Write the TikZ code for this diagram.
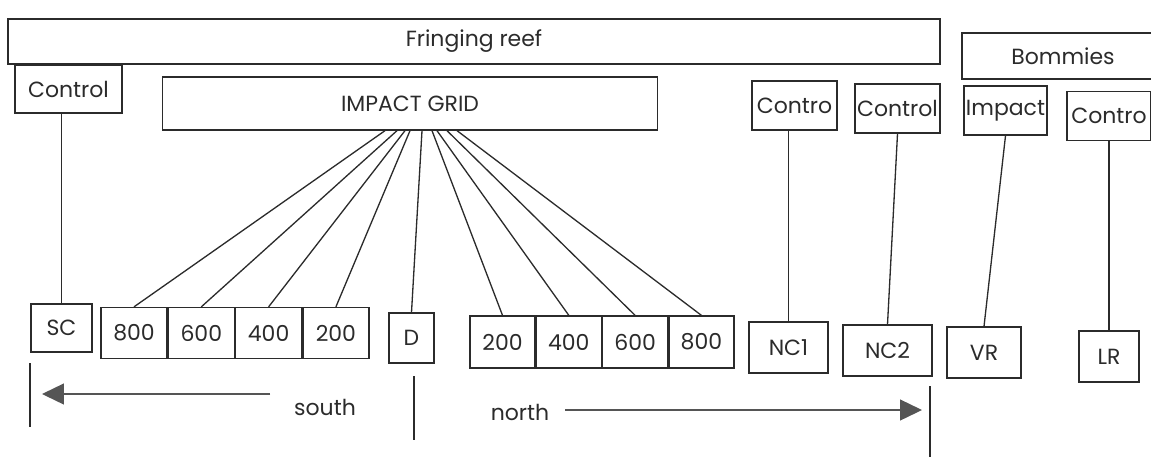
\documentclass[tikz,border=0pt]{standalone}
\usepackage{fontspec}
\setmainfont{Poppins}
\usepackage{tikz}
\usetikzlibrary{arrows.meta,positioning,calc}
\definecolor{ink}{HTML}{2B2B2B}
\definecolor{inkdim}{HTML}{555555}

\begin{document}
\begin{tikzpicture}[x=0.02cm, y=-0.02cm,
      box/.style={draw=ink, line width=0.75pt, inner sep=0pt, minimum height=1cm, align=center, text=ink, font=\fontsize{12.5}{14}\selectfont},
      link/.style={draw=ink, line width=0.75pt},
      arr/.style={-{Triangle[length=4.4mm, width=4.2mm]}, draw=inkdim, fill=inkdim, line width=0.75pt}
    ]
    \useasboundingbox (0,0) rectangle (1151,457);

    % top row
    \node[box, minimum width=18.64cm, minimum height=0.9cm] (reef) at (474,41.5) {Fringing reef};
    \node[box, minimum width=4.04cm, minimum height=0.92cm] (bommies) at (1063,56) {Bommies};
    \node[box, minimum width=2.14cm, minimum height=0.96cm] (ctrlS) at (68.5,89) {Control};
    \node[box, minimum width=9.9cm, minimum height=1.06cm] (grid) at (410,103.5) {IMPACT GRID};
    \node[box, minimum width=1.7cm, minimum height=0.98cm] (ctrlA) at (794.5,105.5) {Contro};
    \node[box, minimum width=1.7cm, minimum height=0.98cm] (ctrlB) at (897.5,108.5) {Control};
    \node[box, minimum width=1.66cm, minimum height=0.98cm] (impact) at (1005.5,110.5) {Impact};
    \node[box, minimum width=1.68cm, minimum height=0.98cm] (ctrlC) at (1109,116) {Contro};

    % sites
    \node[box, minimum width=1.22cm, minimum height=0.96cm] (sc) at (61.5,328) {SC};
    \node[box, minimum width=1.32cm, minimum height=1.02cm] (s800) at (134,333) {800};
    \node[box, minimum width=1.32cm, minimum height=1.02cm, right=0pt of s800] (s600) {600};
    \node[box, minimum width=1.32cm, minimum height=1.02cm, right=0pt of s600] (s400) {400};
    \node[box, minimum width=1.32cm, minimum height=1.02cm, right=0pt of s400] (s200) {200};
    \node[box, minimum width=0.9cm] (d) at (411.5,338) {D};
    \node[box, minimum width=1.3cm, minimum height=1.04cm] (n200) at (502.5,342) {200};
    \node[box, minimum width=1.3cm, minimum height=1.04cm, right=0pt of n200] (n400) {400};
    \node[box, minimum width=1.3cm, minimum height=1.04cm, right=0pt of n400] (n600) {600};
    \node[box, minimum width=1.3cm, minimum height=1.04cm, right=0pt of n600] (n800) {800};
    \node[box, minimum width=1.58cm, minimum height=1.02cm] (nc1) at (788.5,347.5) {NC1};
    \node[box, minimum width=1.78cm, minimum height=1.02cm] (nc2) at (887.5,350.5) {NC2};
    \node[box, minimum width=1.48cm, minimum height=1.02cm] (vr) at (984,352.5) {VR};
    \node[box, minimum width=1.2cm, minimum height=1.02cm] (lr) at (1109,356.5) {LR};

    \draw[link] (sc.north) -- (sc.north |- ctrlS.south);
    \foreach \n/\dx in {s800/-25, s600/-13, s400/-5, s200/0, d/12, n200/22, n400/27, n600/37, n800/47}
      \draw[link] ($(grid.south)+(\dx,0)$) -- (\n.north);
    \draw[link] (nc1.north) -- (nc1.north |- ctrlA.south);
    \draw[link] (ctrlB.south) -- (nc2.north);
    \draw[link] (impact.south) -- (vr.north);
    \draw[link] (ctrlC.south) -- (lr.north);

    % south / north
    \coordinate (tickL) at (30,363);
    \coordinate (tickM) at (414,376);
    \coordinate (tickR) at (930,386);
    \draw[link] (tickL) -- ++(0,64);
    \draw[link] (tickM) -- ++(0,64);
    \draw[link] (tickR) -- ++(0,71);
    \node[text=ink, font=\fontsize{12.5}{14}\selectfont] (south) at (325,407) {south};
    \node[text=ink, font=\fontsize{12.5}{14}\selectfont] (north) at (520,412) {north};
    \coordinate (southEnd) at (42,394);
    \coordinate (northEnd) at (922,410);
    \draw[arr] (270,394) -- (southEnd);
    \draw[arr] (565,410) -- (northEnd);
  \end{tikzpicture}
\end{document}
